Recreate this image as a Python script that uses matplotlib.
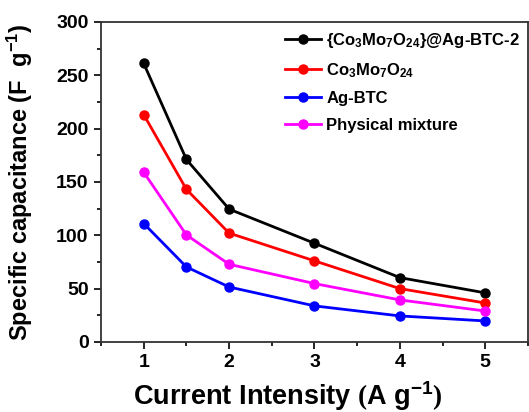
import matplotlib
matplotlib.use("Agg")
import matplotlib.pyplot as plt
from matplotlib.ticker import MultipleLocator

plt.rcParams['font.family'] = ['Liberation Sans', 'DejaVu Sans']
plt.rcParams['font.weight'] = 'bold'
plt.rcParams['mathtext.fontset'] = 'custom'
plt.rcParams['mathtext.rm'] = 'Liberation Sans:bold'
plt.rcParams['mathtext.it'] = 'Liberation Sans:bold'
plt.rcParams['mathtext.bf'] = 'Liberation Sans:bold'
plt.rcParams['mathtext.sf'] = 'Liberation Serif'

current = [1, 1.5, 2, 3, 4, 5]
composite = [261, 171, 124.5, 92.5, 60.3, 46]
co3mo7o24 = [213, 143, 102, 76, 50, 36.5]
agbtc = [111, 70.3, 51.5, 33.8, 24.4, 19.7]
mixture = [159, 100.3, 72.8, 54.7, 39.4, 29]

labels = [r'{Co$_3$Mo$_7$O$_{24}$}@Ag-BTC-2', r'Co$_3$Mo$_7$O$_{24}$', 'Ag-BTC', 'Physical mixture']
series = [composite, co3mo7o24, agbtc, mixture]
colors = ['#000000', '#ff0000', '#0000ff', '#ff00ff']

fig = plt.figure(figsize=(5.29, 4.12), dpi=100)
ax = fig.add_axes([0.191, 0.170, 0.807, 0.777])

for vals, lab, c in zip(series, labels, colors):
    ax.plot(current, vals, '-o', color=c, lw=2, ms=6.5, label=lab)

ax.set_xlim(0.5, 5.5)
ax.set_ylim(0, 300)
ax.xaxis.set_major_locator(MultipleLocator(1))
ax.xaxis.set_minor_locator(MultipleLocator(0.5))
ax.yaxis.set_major_locator(MultipleLocator(50))
ax.yaxis.set_minor_locator(MultipleLocator(25))
ax.tick_params(which='major', direction='out', length=5, width=1.2, labelsize=14, pad=4)
ax.tick_params(which='minor', direction='out', length=3, width=1.2)
for s in ax.spines.values():
    s.set_linewidth(1.3)
    s.set_color('#333333')
for t in ax.get_xticklabels() + ax.get_yticklabels():
    t.set_fontweight('bold')

ax.set_xlabel(r'Current Intensity $\mathsf{(}$A g$^{-1}$$\mathsf{)}$', fontsize=19.5, fontweight='bold')
ax.xaxis.set_label_coords(0.438, -0.115)
ax.set_ylabel(r'Specific capacitance (F  g$^{-1}$)', fontsize=17, fontweight='bold')
ax.yaxis.set_label_coords(-0.155, 0.5)

leg = ax.legend(loc='upper right', bbox_to_anchor=(1.0, 0.995), frameon=False, fontsize=12,
                handlelength=2.2, handletextpad=0.3, labelspacing=0.68,
                borderaxespad=0.0, borderpad=0.45)

fig.savefig('out.png', dpi=100)
